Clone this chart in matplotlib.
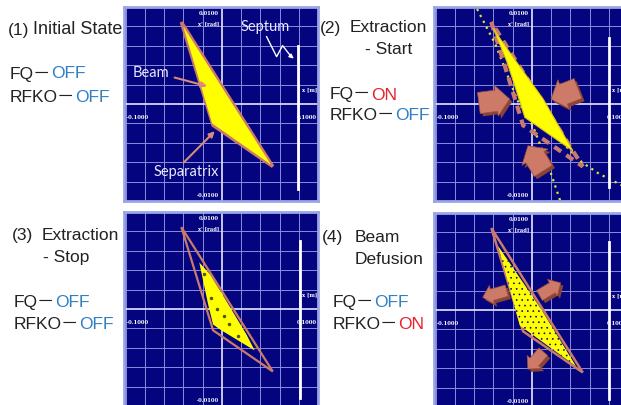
import matplotlib.pyplot as plt
import numpy as np
from matplotlib.patches import Polygon

plt.rcParams['hatch.linewidth'] = 0.45

FONT = ['Liberation Sans', 'Noto Sans CJK JP']
NAVY = '#04047f'
PINK = '#c97a6c'
BLUE = '#2f7fc4'
RED = '#e8202a'

# --- separatrix triangle (phase space x / x', grid units) ---
sep_x = [-2.1, -0.45, 2.65]
sep_y = [4.22, -1.1, -3.22]

# beam distributions per panel
beam1_x = [-2.0, -0.5, 2.55]
beam1_y = [4.0, -1.0, -3.12]
beam2_x = [-2.0, -1.3, -0.9, -0.36, 2.14, 0.59, -0.6, -1.6]
beam2_y = [3.9, 2.2, 1.0, -0.69, -2.42, 0.26, 1.9, 3.3]
beam3_x = [-1.17, -0.71, -0.45, -0.1, 1.71, 1.28, 0.24, -0.62]
beam3_y = [2.40, 0.24, -0.80, -1.05, -2.14, -1.31, 0.41, 1.8]
beam4_x = [-1.75, -0.62, 2.3, 0.45]
beam4_y = [3.3, -0.8, -2.9, 0.1]

# separatrix arms while FQ is on (panel 2)
armA_x = [-3.0, -1.9, -0.75, 0.05, 0.8, 1.55]
armA_y = [5.2, 3.1, 0.2, -1.12, -3.0, -5.2]
armB_x = [1.8, 2.6, 3.5, 4.6, 5.2]
armB_y = [-2.2, -3.0, -3.6, -4.15, -4.5]

# particles inside the beam (panel 3)
dots3_x = [-0.9, -0.55, -0.25, 0.1, 0.4, 0.85]
dots3_y = [1.8, 0.55, 0.0, -0.35, -0.75, -1.4]

# septum: x position, top, bottom
septum_x = [3.95, 4.0, 4.05, 4.0]
septum_top = [3.0, 3.4, 3.5, 3.5]
septum_bot = [-4.4, -4.3, -4.6, -4.6]

# block arrows (tail, tip)
arrows2 = [((-2.75, 0.05), (-1.15, 0.26)), ((2.4, 0.8), (1.0, 0.25)), ((0.6, -3.45), (-0.2, -2.15))]
arrows4 = [((-1.3, 1.0), (-2.55, 0.65)), ((0.4, 0.75), (1.5, 1.4)), ((0.6, -2.15), (-0.2, -3.05))]

# panel origins in pixels (left, top)
panel_pos = [(124, 8), (434, 8), (124, 213), (434, 214)]

W, H = 621, 406
fig = plt.figure(figsize=(W / 100, H / 100), dpi=100)
bg = fig.add_axes([0, 0, 1, 1], zorder=-1)
bg.set_xlim(0, W)
bg.set_ylim(H, 0)
bg.axis('off')


def block_arrow(ax, tail, tip, body, head, head_len):
    tail = np.array(tail)
    tip = np.array(tip)
    d = tip - tail
    u = d / np.hypot(*d)
    n = np.array([-u[1], u[0]])
    neck = tip - u * head_len
    pts = [tail + n * body / 2, neck + n * body / 2, neck + n * head / 2, tip,
           neck - n * head / 2, neck - n * body / 2, tail - n * body / 2]
    shadow = [p + np.array([0.14, -0.14]) for p in pts]
    ax.add_patch(Polygon(shadow, closed=True, facecolor='#8a4436', edgecolor='none', zorder=6))
    ax.add_patch(Polygon(pts, closed=True, facecolor='#cd7a68', edgecolor='#9a5040', lw=0.5, zorder=7))


axes = []
for i, (px, py) in enumerate(panel_pos):
    ax = fig.add_axes([px / W, (H - py - 194) / H, 194 / W, 194 / H])
    ax.set_xlim(-5.08, 5.0)
    ax.set_ylim(-5.0, 5.0)
    ax.set_facecolor(NAVY)
    ax.set_xticks([])
    ax.set_yticks([])
    for s in ax.spines.values():
        s.set_color('#9aa6e6')
        s.set_linewidth(2)
    for k in range(-5, 6):
        if k == 0:
            continue
        ax.axvline(k, color='#8c8cdc', lw=0.7, zorder=1)
        ax.axhline(k, color='#8c8cdc', lw=0.7, zorder=1)
    ax.axvline(0, color='#e6e6ff', lw=1.2, zorder=1)
    ax.axhline(0, color='#e6e6ff', lw=1.2, zorder=1)
    lab = dict(color='white', fontsize=3.8, family='DejaVu Serif', weight='bold', zorder=9)
    ax.text(-0.15, 4.7, '0.0100', ha='right', va='center', **lab)
    ax.text(-0.15, 4.2, "x' [rad]", ha='right', va='center', **lab)
    ax.text(-4.95, -0.67, '-0.1000', ha='left', va='center', **lab)
    ax.text(4.95, -0.67, '0.1000', ha='right', va='center', **lab)
    ax.text(4.95, 0.78, 'x [m]', ha='right', va='center', **lab)
    ax.text(-0.15, -4.66, '-0.0100', ha='right', va='center', **lab)
    ax.plot([septum_x[i]] * 2, [septum_top[i], septum_bot[i]], color='white', lw=2, zorder=8)
    axes.append(ax)

ax1, ax2, ax3, ax4 = axes

# (1) initial state
ax1.fill(sep_x, sep_y, facecolor='#ffff00', edgecolor=PINK, lw=2.5, zorder=3)
ax1.fill(beam1_x, beam1_y, facecolor='#ffff00', edgecolor='none', zorder=3)
ax1.annotate('', xy=(-0.62, 0.88), xytext=(-2.59, 1.4),
             arrowprops=dict(arrowstyle='-|>', color='#d98a7a', lw=1.5, mutation_scale=8), zorder=5)
ax1.annotate('', xy=(-0.26, -1.3), xytext=(-2.07, -3.11),
             arrowprops=dict(arrowstyle='-|>', color='#d98a7a', lw=1.5, mutation_scale=8), zorder=5)
ax1.plot([2.33, 2.85, 3.16, 3.6], [3.47, 2.44, 3.01, 2.45], color='white', lw=1, zorder=5)
ax1.annotate('', xy=(3.85, 2.25), xytext=(3.55, 2.5),
             arrowprops=dict(arrowstyle='-|>', color='white', lw=1, mutation_scale=6), zorder=5)
txt = dict(family='Lato', fontsize=10.5, color='#e8e8ff', zorder=9)
ax1.text(-4.61, 1.66, 'Beam', ha='left', va='center', **txt)
ax1.text(-1.87, -3.47, 'Separatrix', ha='center', va='center', **txt)
ax1.text(2.28, 4.04, 'Septum', ha='center', va='center', **txt)

# (2) extraction start
ax2.plot(armA_x, armA_y, color='#d8e830', lw=1.6, ls=(0, (1, 2)), zorder=2)
ax2.plot(armB_x, armB_y, color='#d8e830', lw=1.6, ls=(0, (1, 2)), zorder=2)
ax2.fill(sep_x, sep_y, facecolor='none', edgecolor=PINK, lw=3, ls=(0, (2, 1.5)), zorder=3)
ax2.fill(beam2_x, beam2_y, facecolor='#ffff00', edgecolor='#e0c020', lw=0.8, zorder=4)
for tail, tip in arrows2:
    block_arrow(ax2, tail, tip, 1.1, 1.6, 0.7)

# (3) extraction stop
ax3.fill(sep_x, sep_y, facecolor='none', edgecolor=PINK, lw=1.6, zorder=3)
ax3.fill(beam3_x, beam3_y, facecolor='#ffff00', edgecolor='none', zorder=4)
ax3.plot(dots3_x, dots3_y, ls='none', marker='o', ms=1.5, color='#555500', zorder=5)

# (4) beam diffusion
ax4.fill(sep_x, sep_y, facecolor='none', edgecolor=PINK, lw=1.8, zorder=3)
ax4.fill(beam4_x, beam4_y, facecolor='#ffff00', edgecolor=NAVY, hatch='...', lw=0, zorder=4)
for tail, tip in arrows4:
    block_arrow(ax4, tail, tip, 0.6, 1.0, 0.5)


def state_line(x, y, name, state, color):
    t = bg.text(x, y, name, fontsize=12.5, family=FONT, color='#222222', va='center', ha='left')
    bg.annotate(state, xy=(1, 0.5), xycoords=t, fontsize=12.5, family=FONT,
                color=color, va='center', ha='left')


tk = dict(fontsize=12.5, family=FONT, color='#222222', va='center', ha='left')
bg.text(8, 30, '(1)', **tk)
bg.text(33, 30, 'Initial State', fontsize=13, family=FONT, color='#222222', va='center', ha='left')
state_line(10, 74, 'FQ－', 'OFF', BLUE)
state_line(10, 97, 'RFKO－', 'OFF', BLUE)

bg.text(320, 28, '(2)', **tk)
bg.text(350, 28, 'Extraction', **tk)
bg.text(365, 50, '- Start', **tk)
state_line(330, 95, 'FQ－', 'ON', RED)
state_line(330, 115, 'RFKO－', 'OFF', BLUE)

bg.text(12, 236, '(3)', **tk)
bg.text(42, 236, 'Extraction', **tk)
bg.text(43, 258, '- Stop', **tk)
state_line(14, 303, 'FQ－', 'OFF', BLUE)
state_line(14, 325, 'RFKO－', 'OFF', BLUE)

bg.text(322, 238, '(4)', **tk)
bg.text(355, 238, 'Beam', **tk)
bg.text(355, 260, 'Defusion', **tk)
state_line(333, 303, 'FQ－', 'OFF', BLUE)
state_line(333, 325, 'RFKO－', 'ON', RED)

fig.savefig('out.png', dpi=100)
